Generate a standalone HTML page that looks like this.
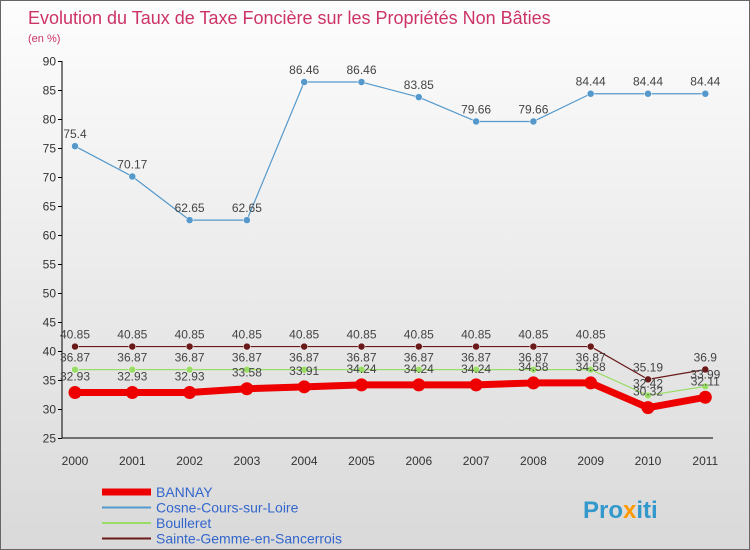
<!DOCTYPE html>
<html><head><meta charset="utf-8"><style>
body{margin:0;}
#wrap{width:748px;height:548px;border:1px solid #666;background:linear-gradient(#fdfdfd,#d9d9d9);position:relative;font-family:"Liberation Sans",sans-serif;overflow:hidden}
</style></head><body>
<div id="wrap">
<svg id="c" width="748" height="548" xmlns="http://www.w3.org/2000/svg">
<text x="27" y="23" font-size="18" fill="#cc3366">Evolution du Taux de Taxe Foncière sur les Propriétés Non Bâties</text>
<text x="27" y="41" font-size="11" fill="#cc3366">(en %)</text>
<g id="axes"></g><g id="series"></g><g id="legend"></g>
<text x="582" y="517" font-size="24" font-weight="bold" fill="#3399cc">Pro<tspan fill="#ff9900">x</tspan>iti</text>
</svg>
</div>
<script>
const years=[2000,2001,2002,2003,2004,2005,2006,2007,2008,2009,2010,2011];
const yTicks=[25,30,35,40,45,50,55,60,65,70,75,80,85,90];
const bannay=[32.93,32.93,32.93,33.58,33.91,34.24,34.24,34.24,34.58,34.58,30.32,32.11];
const cosne=[75.4,70.17,62.65,62.65,86.46,86.46,83.85,79.66,79.66,84.44,84.44,84.44];
const boulleret=[36.87,36.87,36.87,36.87,36.87,36.87,36.87,36.87,36.87,36.87,32.42,33.99];
const sainte=[40.85,40.85,40.85,40.85,40.85,40.85,40.85,40.85,40.85,40.85,35.19,36.9];
const names=["BANNAY","Cosne-Cours-sur-Loire","Boulleret","Sainte-Gemme-en-Sancerrois"];
const NS="http://www.w3.org/2000/svg";
const x=i=>74+i*57.3;
const y=v=>60.5+(90-v)*5.8;
function mk(t,a,p){const e=document.createElementNS(NS,t);for(const k in a)e.setAttribute(k,a[k]);p.appendChild(e);return e;}
const ax=document.getElementById('axes');
const yl=mk('line',{x1:61,y1:60,x2:61,y2:437,stroke:'#000'},ax);


const xl=mk('line',{x1:61,y1:437,x2:712,y2:437,stroke:'#000'},ax);


yTicks.forEach(v=>{
 mk('line',{x1:57,x2:61,y1:y(v),y2:y(v),stroke:'#000'},ax);
 const t=mk('text',{x:55,y:y(v)+4,'font-size':12,'text-anchor':'end',fill:'#333'},ax);t.textContent=v;
 
 
});
years.forEach((yr,i)=>{
 const t=mk('text',{x:x(i),y:464,'font-size':12,'text-anchor':'middle',fill:'#333'},ax);t.textContent=yr;
 
 
});
const sg=document.getElementById('series');
function series(data,color,w,r,name,lblOff){
 const g=mk('g',{},sg);
 
 
 mk('polyline',{points:data.map((v,i)=>x(i)+','+y(v)).join(' '),fill:'none',stroke:color,'stroke-width':w,'stroke-linejoin':'round'},g);
 data.forEach((v,i)=>{
  const c=mk('circle',{cx:x(i),cy:y(v),r:r,fill:color,stroke:w>3?'none':'#fff','stroke-width':0.5},g);
  
  
  const t=mk('text',{x:x(i),y:y(v)+lblOff,'font-size':12,'text-anchor':'middle',fill:'#444'},g);t.textContent=v;
  
  
 });
}
series(sainte,'#6b1a1a',1.2,3.5,'sainte-gemme',-8);
series(boulleret,'#99dd66',1.2,3.5,'boulleret',-8);
series(cosne,'#5599cc',1.2,3.5,'cosne',-8);
series(bannay,'#ee0000',7,6.5,'bannay',-12);
const lg=document.getElementById('legend');
const cols=['#ee0000','#5599cc','#99dd66','#6b1a1a'];
names.forEach((n,i)=>{
 const yy=491+i*15.5;
 mk('line',{x1:101,x2:150,y1:yy,y2:yy,stroke:cols[i],'stroke-width':i==0?7:2},lg);
 const t=mk('text',{x:155,y:yy+5,'font-size':14,fill:'#3366cc'},lg);t.textContent=n;
 
 
});
</script>
</body></html>
